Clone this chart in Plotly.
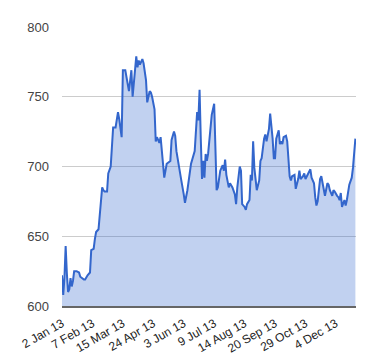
import plotly.graph_objects as go

# trading-day index and closing value
day = [0,1,2,3,4,5,6,7,8,9,10,12,14,15,18,19,21,23,24,26,27,28,30,31,32,33,34,35,37,38,
       40,41,42,44,46,47,49,50,52,55,57,58,61,62,63,64,66,67,69,70,72,73,74,76,77,78,80,81,82,
       84,85,86,89,90,92,93,94,96,98,100,101,103,105,106,109,110,111,112,113,114,115,116,117,118,
       119,120,122,123,125,126,127,128,130,131,132,133,134,135,137,138,140,142,143,144,146,147,148,
       150,151,152,154,155,156,157,158,160,162,163,164,166,167,168,170,171,172,173,174,175,176,178,
       179,180,181,182,184,185,187,188,189,191,192,194,195,196,198,199,200,202,204,205,207,208,209,
       210,212,213,214,215,216,218,219,220,222,223,224,226,227,228,229,230,232,233,234,236,237,238,
       239,240,241]
price = [622,608,620,643,623,610,612,620,614,618,625,625,624,621,619,619,622,624,640,641,648,653,655,664,671,685,683,682,682,695,
         700,713,728,728,739,734,721,769,769,754,769,750,779,771,776,773,777,774,762,746,754,753,750,741,718,721,717,721,711,
         692,697,702,704,719,725,722,711,699,690,680,674,683,695,702,711,723,739,733,755,720,691,704,692,709,
         704,709,732,737,745,704,683,685,697,699,701,697,705,694,685,688,685,680,673,685,700,697,673,
         671,669,673,676,694,690,718,699,683,690,704,706,720,723,718,727,738,730,720,706,706,720,726,
         716,718,716,721,722,718,693,690,693,694,684,691,697,691,693,695,691,695,698,692,688,678,672,
         675,691,693,688,683,679,688,687,683,679,683,682,679,678,676,681,671,676,672,676,687,689,692,
         699,711,720]

tick_pos = [0, 25, 50, 75, 100, 125, 150, 175, 200, 225]
tick_labels = ["2 Jan 13", "7 Feb 13", "15 Mar 13", "24 Apr 13", "3 Jun 13",
               "9 Jul 13", "14 Aug 13", "20 Sep 13", "29 Oct 13", "4 Dec 13"]
y_ticks = [600, 650, 700, 750, 800]

fig = go.Figure()
fig.add_trace(go.Scatter(
    x=day, y=price, mode="lines", fill="tozeroy",
    line=dict(color="#3366cc", width=2),
    fillcolor="rgba(51,102,204,0.3)",
    hoverinfo="skip",
))

fig.update_layout(
    width=380, height=360,
    margin=dict(l=48, r=32, t=15, b=60),
    paper_bgcolor="white", plot_bgcolor="white",
    showlegend=False,
    font=dict(family="Arial, Liberation Sans, sans-serif", size=12, color="#444"),
)
fig.update_xaxes(
    range=[0, 241.5], tickmode="array", tickvals=tick_pos, ticktext=tick_labels,
    tickangle=-30, showgrid=False, zeroline=False,
    showline=True, linecolor="#666", linewidth=2,
    tickfont=dict(size=12, color="#222"), ticks="", ticklabelstandoff=4,
)
fig.update_yaxes(
    range=[600, 800], tickmode="array", tickvals=y_ticks,
    showgrid=True, gridcolor="#cccccc", gridwidth=1, zeroline=False,
    ticks="", ticklabelstandoff=12,
    tickfont=dict(size=13, color="#444"),
)

fig.write_html("out.html")
